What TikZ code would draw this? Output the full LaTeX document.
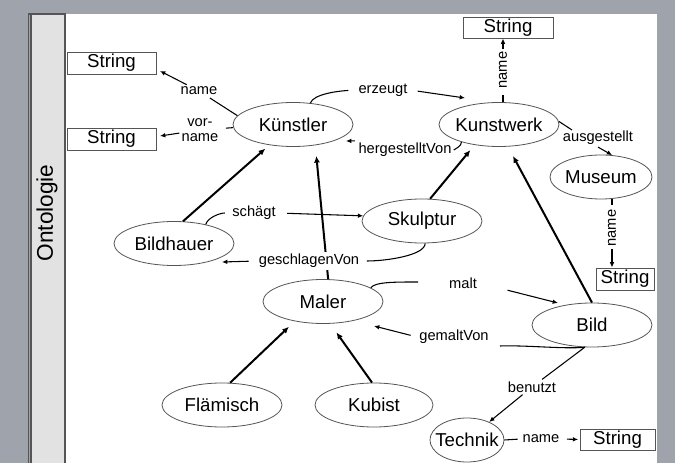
\documentclass[tikz,border=0pt]{standalone}
\usepackage{fontspec}
\setmainfont{Liberation Sans}
\usetikzlibrary{shapes.geometric,arrows.meta}
\definecolor{bggray}{HTML}{9FA4AC}
\definecolor{stripgray}{HTML}{E2E2E2}
\definecolor{edgegray}{HTML}{555555}
\begin{document}
\begin{tikzpicture}[x=0.75pt,y=-0.75pt,
  cls/.style={ellipse,draw=edgegray,line width=0.6pt,minimum width=90pt,minimum height=33pt,inner ysep=0pt,inner xsep=-3pt,font=\fontsize{14}{16}\selectfont},
  strbox/.style={rectangle,draw=edgegray,line width=0.7pt,fill=white,inner sep=0pt,minimum height=16.5pt,font=\fontsize{14}{16}\selectfont},
  lbl/.style={font=\fontsize{11}{11.6}\selectfont,inner sep=1.5pt},
  isa/.style={line width=1.5pt,-{Latex[length=5pt,width=4.5pt]}},
  prop/.style={line width=0.8pt},
  propar/.style={line width=0.8pt,-{Latex[length=4pt,width=3.5pt]}}
]
\useasboundingbox (0,0) rectangle (675,463);
\fill[bggray] (0,0) rectangle (675,463);
\fill[white] (65,14) rectangle (657,463);
\draw[edgegray,fill=stripgray,line width=0.8pt] (31,463) -- (31,14) -- (65,14) -- (65,463);
\draw[edgegray,line width=0.8pt] (28.5,463) -- (28.5,14) -- (31,14);
\node[rotate=90,font=\fontsize{17}{20}\selectfont] (onto) at (47,213) {Ontologie};

% classes
\node[cls] (kuenstler) at (293,124.5) {Künstler};
\node[cls] (kunstwerk) at (499,124.5) {Kunstwerk};
\node[cls,minimum width=76.5pt] (museum) at (601,177) {Museum};
\node[cls] (skulptur) at (422,221) {Skulptur};
\node[cls] (bildhauer) at (174,243.5) {Bildhauer};
\node[cls] (maler) at (323,301.5) {Maler};
\node[cls] (bild) at (592,325) {Bild};
\node[cls] (flaemisch) at (222,405) {Flämisch};
\node[cls,minimum width=88.5pt] (kubist) at (374,405) {Kubist};
\node[cls,minimum width=55.5pt,inner xsep=-5.5pt] (technik) at (467,440) {Technik};

% literal boxes
\node[strbox,minimum width=66.75pt] (s1) at (111.5,63) {String};
\node[strbox,minimum width=66.75pt] (s2) at (111.5,139) {String};
\node[strbox,minimum width=67.5pt,minimum height=15.75pt] (s3) at (508,27.5) {String};
\node[strbox,minimum width=43.5pt] (s4) at (625,279) {String};
\node[strbox,minimum width=56.25pt,minimum height=15.75pt] (s5) at (617.5,439.5) {String};

% subclass edges
\draw[isa,shorten >=4pt] (bildhauer.68) -- (kuenstler.221);
\draw[isa,shorten >=8pt] (maler.77) -- (kuenstler.317);
\draw[isa,shorten >=5pt] (skulptur.70) -- (kunstwerk.220);
\draw[isa,shorten >=8pt] (bild.90) -- (kunstwerk.292);
\draw[isa,shorten >=6pt] (flaemisch.70) -- (maler.215);
\draw[isa,shorten >=8pt] (kubist.95) -- (maler.288);

% property labels
\node[lbl] (n1) at (199,91) {name};
\node[lbl,align=center] (vn) at (200,130) {vor-\\name};
\node[lbl] (erz) at (383,90) {erzeugt};
\node[lbl] (hv) at (405,150) {hergestelltVon};
\node[lbl,rotate=90] (kwn) at (503,70) {name};
\node[lbl] (aus) at (598,138) {ausgestellt};
\node[lbl,rotate=90] (mn) at (612,228) {name};
\node[lbl] (sch) at (254,213) {schägt};
\node[lbl,fill=white] (gv) at (309,261) {geschlagenVon};
\node[lbl] (malt) at (463,283) {malt};
\node[lbl] (gmv) at (454,337) {gemaltVon};
\node[lbl] (ben) at (532,387) {benutzt};
\node[lbl] (tn) at (541,439) {name};

% free ends
\coordinate (n1e) at (160,71);
\coordinate (vne) at (160,136);
\coordinate (erze) at (465,98);
\coordinate (hve) at (346,141);
\coordinate (ause) at (572,130);
\coordinate (gve) at (222,262);
\coordinate (malt1) at (418,282);
\coordinate (malte) at (558,303);
\coordinate (gv2) at (500,346);
\coordinate (gmve) at (374,326);

% property edges
\draw[prop,shorten >=1pt] (kuenstler.171) -- (n1);
\draw[propar] (n1) -- (n1e);
\draw[prop,shorten >=4pt] (kuenstler.183) -- (vn);
\draw[propar] (vn) -- (vne);
\draw[prop,shorten >=6pt] (kuenstler.51) .. controls +(3,-9) and +(-18,1) .. (erz.west);
\draw[propar,shorten <=6pt] (erz.east) -- (erze);
\draw[prop] (kunstwerk.205) .. controls +(0,4) and +(3,-2) .. (hv.east);
\draw[propar,shorten <=1pt] (hv.north west) -- (hve);
\draw[prop,shorten >=3pt] (kwn |- kunstwerk.north) -- (kwn);
\draw[propar] (kwn) -- (kwn |- s3.south);
\draw[prop] (kunstwerk.3) -- (ause);
\draw[propar] (aus.south) -- (museum.63);
\draw[prop,shorten >=2pt] (mn |- museum.south) -- (mn);
\draw[propar] (mn) -- (mn |- s4.north);
\draw[prop,shorten >=4pt] (bildhauer.31) .. controls +(2,-7) and +(-10,0) .. (sch.west);
\draw[propar,shorten <=7pt] (sch.east) -- (skulptur.175);
\draw[prop,shorten >=4pt] (skulptur.-82) .. controls +(0,12) and +(25,0) .. (gv.east);
\draw[propar,shorten <=6pt] (gv.west) -- (gve);
\draw[prop] (maler.16) .. controls +(4,-6) and +(-22,0) .. (malt1);
\draw[propar,shorten <=22pt] (malt.east) -- (malte);
\draw[prop] (bild.252) .. controls +(-20,2) and +(25,-1) .. (gv2);
\draw[propar,shorten <=5pt] (gmv.west) -- (gmve);
\draw[prop] (bild.252) -- (ben);
\draw[propar] (ben) -- (technik);
\draw[prop,shorten >=2pt] (technik.east) -- (tn.west);
\draw[propar,shorten <=4pt,shorten >=1pt] (tn.east) -- (s5.west);
\end{tikzpicture}
\end{document}
